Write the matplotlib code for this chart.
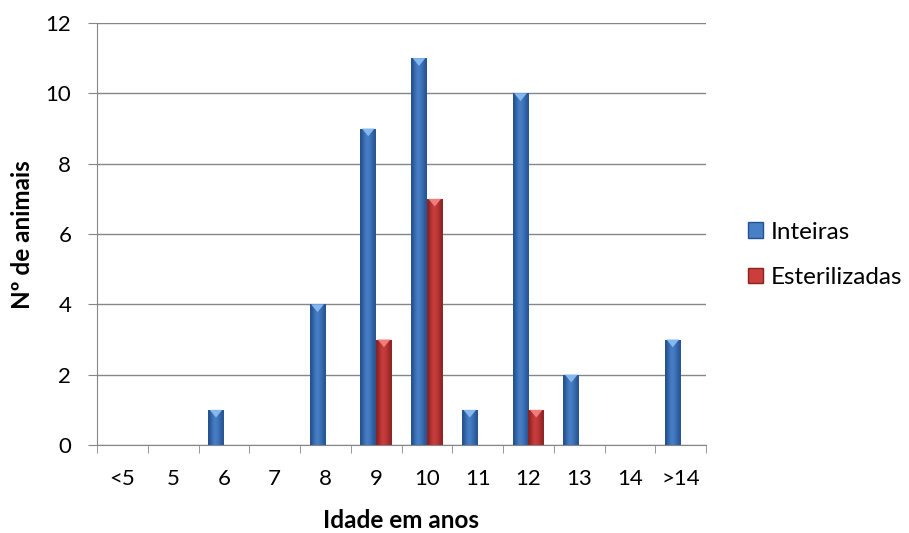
import numpy as np
import matplotlib.pyplot as plt
from matplotlib.patches import Polygon, Patch
from matplotlib.colors import LinearSegmentedColormap

plt.rcParams['font.family'] = ['Lato', 'DejaVu Sans']

# dados
idades = ['<5', '5', '6', '7', '8', '9', '10', '11', '12', '13', '14', '>14']
inteiras = [0, 0, 1, 0, 4, 9, 11, 1, 10, 2, 0, 3]
esterilizadas = [0, 0, 0, 0, 0, 3, 7, 0, 1, 0, 0, 0]

cores = {
    'Inteiras': ('#24508F', '#4880C8', '#86B8F0'),
    'Esterilizadas': ('#8A2222', '#CC3E3E', '#F07C7C'),
}

fig = plt.figure(figsize=(9.09, 5.33), dpi=100)
# eixo: x 97..706 px, y 23..445 px
ax = fig.add_axes([97 / 909, 1 - 445 / 533, 609 / 909, 422 / 533])

x = np.arange(len(idades))
w = 0.31


def barra_bisel(ax, xs, hs, nome):
    escuro, medio, claro = cores[nome]
    bars = ax.bar(xs, hs, width=w, color=medio, align='edge', zorder=2)
    grad = np.array([[0.0, 0.6, 1.0, 0.85, 0.5, 0.1]])
    cmap = LinearSegmentedColormap.from_list(nome, [escuro, medio])
    for b in bars:
        h = b.get_height()
        if h <= 0:
            continue
        x0 = b.get_x()
        im = ax.imshow(grad, extent=[x0, x0 + w, 0, h], aspect='auto',
                       cmap=cmap, zorder=2.5, interpolation='bicubic')
        im.set_clip_path(b)
        tri = Polygon([[x0 + 0.03, h], [x0 + w - 0.03, h], [x0 + w / 2, h - 0.22]],
                      closed=True, color=claro, zorder=3, lw=0)
        ax.add_patch(tri)
    return bars


barra_bisel(ax, x - w, inteiras, 'Inteiras')
barra_bisel(ax, x, esterilizadas, 'Esterilizadas')

ax.set_xlim(-0.5, len(idades) - 0.5)
ax.set_ylim(0, 12)
ax.set_yticks(range(0, 13, 2))
ax.set_xticks(x)
ax.set_xticklabels(idades)
ax.set_xticks(np.arange(-0.5, len(idades)), minor=True)
ax.tick_params(axis='x', which='major', length=0, pad=17, labelsize=16)
ax.tick_params(axis='x', which='minor', length=6, color='#868686')
ax.tick_params(axis='y', length=6.5, color='#868686', labelsize=16, pad=12)
ax.grid(axis='y', color='#868686', lw=1, zorder=0)
ax.set_axisbelow(True)
for s in ['top', 'right']:
    ax.spines[s].set_visible(False)
for s in ['left', 'bottom']:
    ax.spines[s].set_color('#868686')

ax.set_ylabel('Nº de animais', fontsize=17.5, fontweight='bold', va='center')
ax.yaxis.set_label_coords((23 - 97) / 609, (445 - 235) / 422)
ax.set_xlabel('Idade em anos', fontsize=17.5, fontweight='bold', va='center')
ax.xaxis.set_label_coords((401 - 97) / 609, -(520 - 445) / 422)

handles = [Patch(facecolor=cores[n][1], edgecolor=cores[n][0], label=n)
           for n in ['Inteiras', 'Esterilizadas']]
fig.legend(handles=handles, loc='center left', bbox_to_anchor=(748 / 909, 1 - 255 / 533),
           frameon=False, fontsize=17.5, handlelength=0.62, handleheight=0.62,
           handletextpad=0.3, labelspacing=1.0, borderpad=0, borderaxespad=0)

fig.savefig('out.png', dpi=100)
